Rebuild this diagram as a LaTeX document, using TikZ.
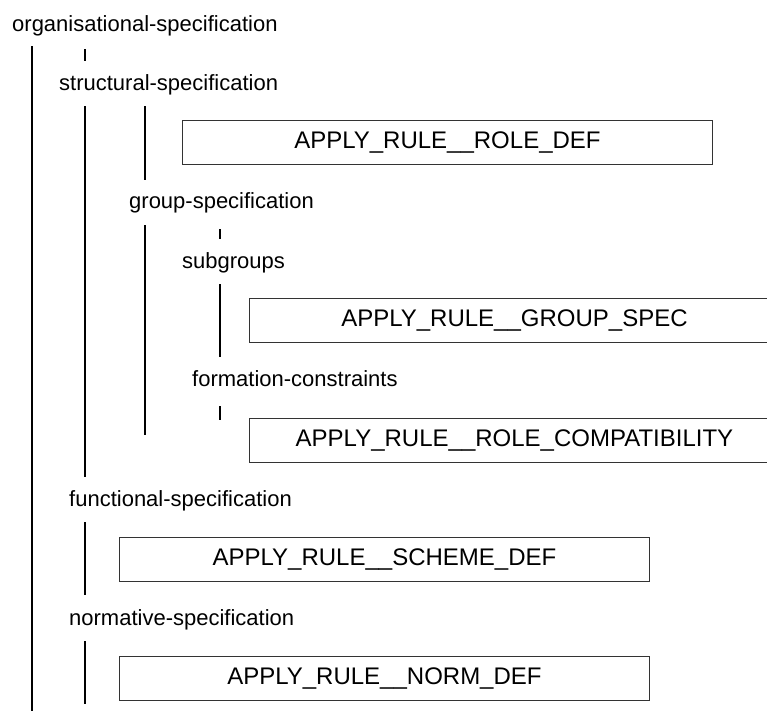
\documentclass[tikz,border=0pt]{standalone}
\usepackage{fontspec}
\setmainfont{Liberation Sans}
\usetikzlibrary{positioning,calc}

\begin{document}
\begin{tikzpicture}[
  x=1pt, y=-1pt,
  lbl/.style={anchor=base west, inner sep=0pt, font=\fontsize{22}{26}\selectfont},
  rulebox/.style={rectangle, draw=black!80, line width=0.9pt, anchor=north west,
                  minimum width=530pt, minimum height=44pt, inner sep=0pt,
                  font=\fontsize{24}{28}\selectfont},
  guide/.style={line width=1.8pt},
  tick/.style={line width=1.3pt}
]
\useasboundingbox (0,0) rectangle (767,710);
\clip (0,0) rectangle (767,710);

%% ---- labels ----
\node[lbl] (orgspec)    at (12,31.5)   {organisational-specification};
\node[lbl] (structspec) at (59,90.5)   {structural-specification};
\node[lbl] (groupspec)  at (129,208.5) {group-specification};
\node[lbl] (subgroups)  at (182,268.5) {subgroups};
\node[lbl] (formation)  at (192,386.5) {formation-constraints};
\node[lbl] (funcspec)   at (69,506.5)  {functional-specification};
\node[lbl] (normspec)   at (69,625.5)  {normative-specification};

%% ---- rule boxes ----
\node[rulebox] (roledef)   at (182,120) {APPLY\_RULE\_\_ROLE\_DEF};
\node[rulebox] (groupdef)  at (249,298) {APPLY\_RULE\_\_GROUP\_SPEC};
\node[rulebox] (rolecompat) at (249,418) {APPLY\_RULE\_\_ROLE\_COMPATIBILITY};
\node[rulebox] (schemedef) at (119,537) {APPLY\_RULE\_\_SCHEME\_DEF};
\node[rulebox] (normdef)   at (119,656) {APPLY\_RULE\_\_NORM\_DEF};

%% ---- guide lines ----
\draw[guide] (32,46)  -- (32,712);
\draw[tick]  (85,49)  -- (85,61);
\draw[guide] (85,106) -- (85,477);
\draw[guide] (145,106) -- (145,180);
\draw[guide] (145,225) -- (145,435);
\draw[tick]  (220,229) -- (220,239);
\draw[guide] (220,284) -- (220,357);
\draw[tick]  (220,406) -- (220,420);
\draw[guide] (85,522) -- (85,595);
\draw[guide] (85,641) -- (85,704);
\end{tikzpicture}
\end{document}
